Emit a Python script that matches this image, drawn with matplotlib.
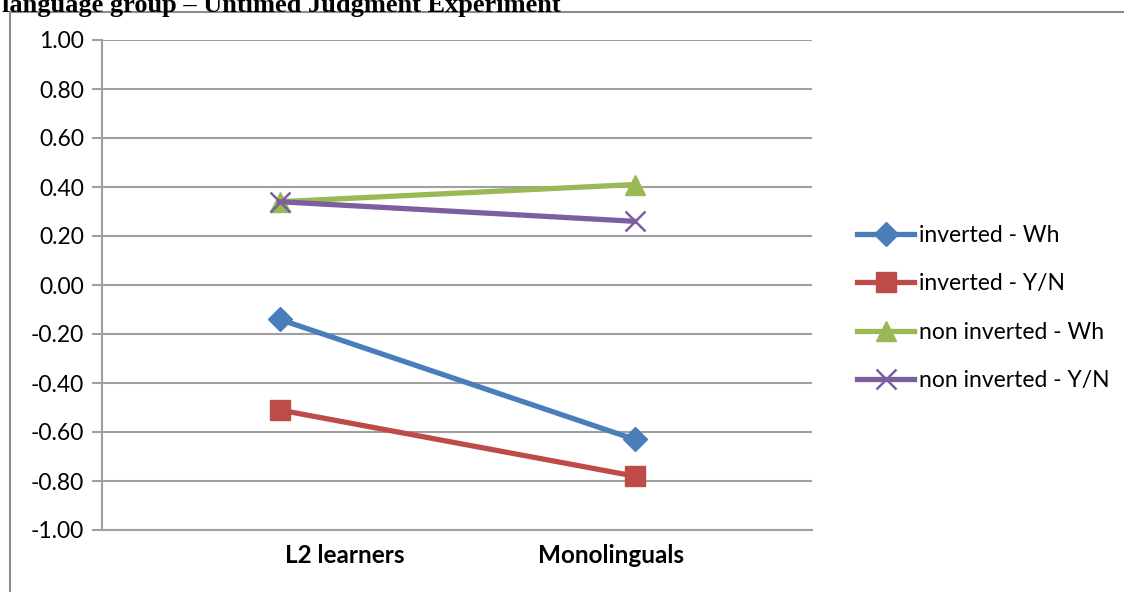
import matplotlib
matplotlib.use("Agg")
import matplotlib.pyplot as plt
import matplotlib.transforms as mtransforms
from matplotlib.patches import Rectangle

# data
groups = ["L2 learners", "Monolinguals"]
series_names = ["inverted - Wh", "inverted - Y/N", "non inverted - Wh", "non inverted - Y/N"]
inv_wh = [-0.14, -0.63]
inv_yn = [-0.51, -0.78]
noninv_wh = [0.34, 0.41]
noninv_yn = [0.34, 0.26]
y_ticks = [-1.0, -0.8, -0.6, -0.4, -0.2, 0.0, 0.2, 0.4, 0.6, 0.8, 1.0]

colors = ["#4A7EBB", "#BE4B48", "#98B954", "#7D5FA0"]
markers = ["D", "s", "^", "x"]
msizes = [12, 14, 15, 15]

plt.rcParams["font.family"] = ["Lato", "DejaVu Sans"]

W, H = 1124, 592
fig = plt.figure(figsize=(W / 100, H / 100), dpi=100)

# chart frame (cut off at right and bottom like the screenshot)
fig.patches.append(Rectangle((10 / W, -0.1), 1.2, 1 - 12 / H + 0.1,
                             transform=fig.transFigure, fill=False,
                             edgecolor="#8C8C8C", linewidth=1.5))

fig.text(2 / W, 1 + 6 / H, "language group \u2013 Untimed Judgment Experiment",
         family="Liberation Serif", fontweight="bold", fontsize=19,
         ha="left", va="top")

ax = fig.add_axes([102 / W, 1 - 530 / H, 710 / W, 490 / H])

x = range(len(groups))
all_series = [inv_wh, inv_yn, noninv_wh, noninv_yn]
for vals, name, c, m, ms in zip(all_series, series_names, colors, markers, msizes):
    kw = dict(markeredgewidth=1.8) if m == "x" else dict(markeredgecolor=c)
    ax.plot(x, vals, color=c, linewidth=3.8, marker=m, markersize=ms,
            markerfacecolor=c, label=name, **kw)

ax.set_xlim(-0.5, 1.5)
ax.set_ylim(-1.0, 1.0)
ax.set_yticks(y_ticks)
ax.set_yticklabels([f"{v:.2f}" for v in y_ticks])
ax.set_xticks(list(x))
ax.set_xticklabels(groups, fontweight="bold")
ax.grid(axis="y", color="#A0A0A0", linewidth=1.5)
ax.set_axisbelow(True)
for s in ["top", "right"]:
    ax.spines[s].set_visible(False)
for s in ["left", "bottom"]:
    ax.spines[s].set_color("#A0A0A0")
    ax.spines[s].set_linewidth(1.5)
ax.tick_params(axis="y", length=7, width=1.5, color="#A0A0A0",
               labelsize=16.5, pad=6)
ax.tick_params(axis="x", length=0, labelsize=17.5, pad=10)

# the category labels in the screenshot sit off the point positions
for lbl, dx in zip(ax.get_xticklabels(), [65, -24]):
    off = mtransforms.ScaledTranslation(dx / 100, 0, fig.dpi_scale_trans)
    lbl.set_transform(lbl.get_transform() + off)

ax.legend(loc="center left", bbox_to_anchor=((848 - 102) / 710, 0.453),
          frameon=False, fontsize=16.5, handlelength=2.5, handletextpad=0.2,
          labelspacing=1.2, borderaxespad=0)

fig.savefig("out.png", dpi=100)
